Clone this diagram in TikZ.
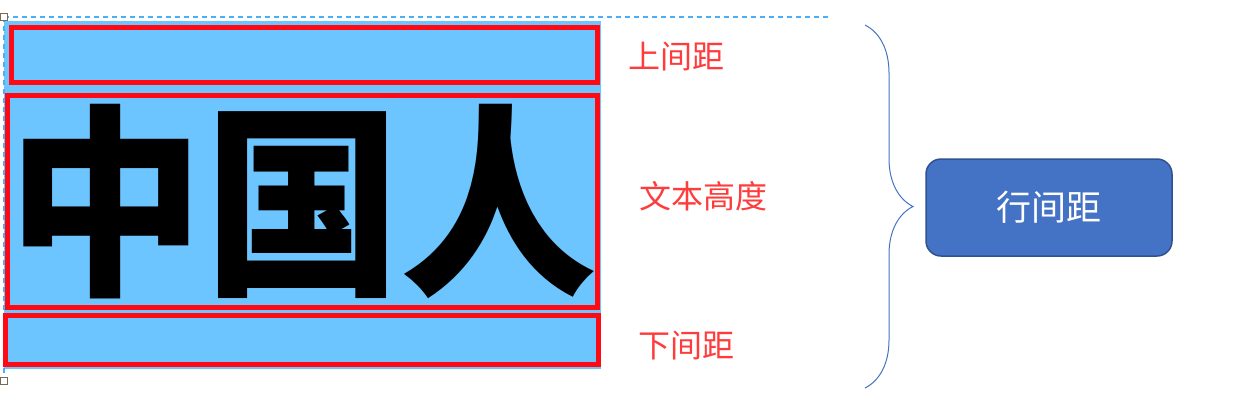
\documentclass[tikz,border=0pt]{standalone}
\usepackage{fontspec}
\setmainfont{Noto Sans CJK SC}
\usetikzlibrary{decorations.pathreplacing}
\usepackage{xcolor}
\definecolor{skyfill}{HTML}{6CC5FE}
\definecolor{bandred}{HTML}{FF0A14}
\definecolor{notered}{HTML}{FF3B3B}
\definecolor{guideblue}{HTML}{4DAEF5}
\definecolor{boxblue}{HTML}{4472C4}
\definecolor{boxedge}{HTML}{2F528F}
\definecolor{handlebrown}{HTML}{7A6A55}

\begin{document}
\begin{tikzpicture}[x=1pt, y=-1pt,
  band/.style={draw=bandred, line width=5.5pt, inner sep=0pt},
  note/.style={text=notered, inner sep=0pt, font=\fontsize{32}{32}\selectfont},
  guide/.style={guideblue, line width=1.5pt, dash pattern=on 5pt off 4pt},
  handle/.style={draw=handlebrown, fill=white, line width=1.2pt, minimum size=7.5pt, inner sep=0pt},
  spanbrace/.style={boxblue, line width=1pt, decorate, decoration={brace, amplitude=48pt}},
  spacebox/.style={draw=boxedge, fill=boxblue, line width=1.5pt, rounded corners=15pt,
    minimum width=246pt, minimum height=97pt, text=white, font=\fontsize{35}{35}\selectfont}
]
  \useasboundingbox (0,0) rectangle (1244,400);

  \node[fill=skyfill, minimum width=597pt, minimum height=348pt, inner sep=0pt] (bg) at (302.5,195) {};

  \coordinate (gtop) at (4,17);
  \coordinate (gend) at (830,17);
  \coordinate (gbot) at (4,381);
  \draw[guide] (gtop) -- (gend);
  \draw[guide] (gtop) -- (gbot);

  \node[band, minimum width=586pt, minimum height=55pt] (upper) at (304.5,55) {};
  \node[band, minimum width=590pt, minimum height=212pt] (body) at (302.5,201.5) {};
  \node[band, minimum width=593pt, minimum height=49pt] (lower) at (302,340) {};

  \node[inner sep=0pt, font=\fontsize{205}{205}\selectfont\bfseries] (chars) at (body)
    {\scalebox{0.96}[1]{中国人}};

  \node[handle] (h1) at (gtop) {};
  \node[handle] (h2) at (gbot) {};

  \node[note] (ntop) at (676,57) {上间距};
  \node[note] (nmid) at (703,196) {文本高度};
  \node[note] (nbot) at (686,346) {下间距};

  \coordinate (b1) at (865,25);
  \coordinate (b2) at (865,388);
  \draw[spanbrace] (b1) -- (b2);

  \node[spacebox] (linesp) at (1049,207.5) {行间距};
\end{tikzpicture}
\end{document}
